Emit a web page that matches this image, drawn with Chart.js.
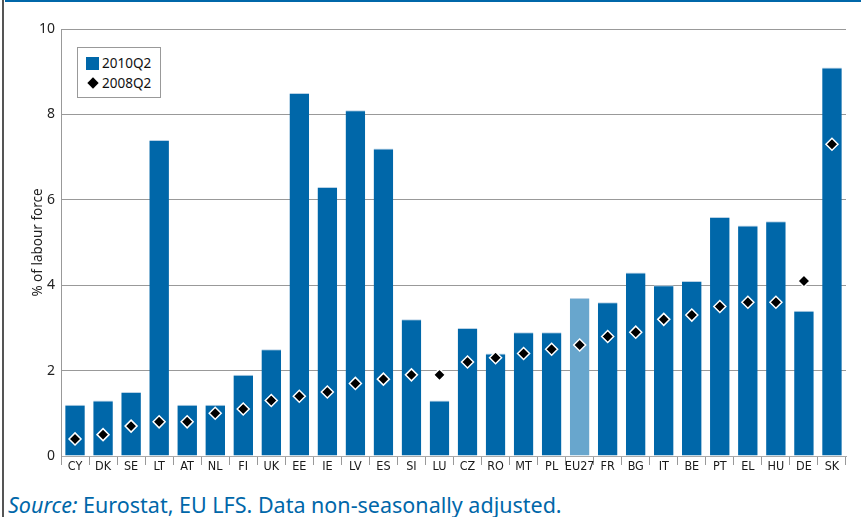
<!DOCTYPE html>
<html>
<head>
<meta charset="utf-8">
<script src="https://cdn.jsdelivr.net/npm/chart.js@4.4.1/dist/chart.umd.min.js"></script>
<style>
  html, body { margin: 0; padding: 0; background: #fff; }
  #wrap { position: relative; width: 861px; height: 517px; overflow: hidden; }
  #topLine { position: absolute; left: 5px; top: 0; width: 856px; height: 2px; background: #0067a9; }
  #leftLine { position: absolute; left: 2px; top: 0; width: 2px; height: 517px; background: #555; }
  #chartBox { position: absolute; left: 0; top: 0; width: 861px; height: 478px; }
  #legend {
    position: absolute; left: 77px; top: 47px; width: 84px; height: 51px;
    border: 1px solid #999; background: #fff; box-sizing: border-box;
    font-family: "Noto Sans", sans-serif; font-size: 13.5px; color: #111;
  }
  .row { position: absolute; left: 8px; height: 16px; line-height: 16px; }
  .sw { display: inline-block; width: 13px; height: 13px; background: #0067a9; vertical-align: -2px; margin-right: 3px; }
  .dm { display: inline-block; width: 8px; height: 8px; background: #000; transform: rotate(45deg); margin: 0 5px 0 3px; vertical-align: 1px; }
  #source {
    position: absolute; left: 8px; top: 490px; font-family: "Noto Sans", sans-serif;
    font-size: 21.5px; color: #0067a9; white-space: nowrap;
  }
</style>
</head>
<body>
<div id="wrap">
  <div id="topLine"></div>
  <div id="leftLine"></div>
  <div id="chartBox"><canvas id="myChart"></canvas></div>
  <div id="legend">
    <div class="row" style="top:7px"><span class="sw"></span>2010Q2</div>
    <div class="row" style="top:27px"><span class="dm"></span>2008Q2</div>
  </div>
  <div id="source"><i>Source:</i> Eurostat, EU LFS. Data non-seasonally adjusted.</div>
</div>
<script>
const categories = ["CY", "DK", "SE", "LT", "AT", "NL", "FI", "UK", "EE", "IE", "LV", "ES", "SI", "LU",
  "CZ", "RO", "MT", "PL", "EU27", "FR", "BG", "IT", "BE", "PT", "EL", "HU", "DE", "SK"];
const values2010 = [1.2, 1.3, 1.5, 7.4, 1.2, 1.2, 1.9, 2.5, 8.5, 6.3, 8.1, 7.2, 3.2, 1.3,
  3.0, 2.4, 2.9, 2.9, 3.7, 3.6, 4.3, 4.0, 4.1, 5.6, 5.4, 5.5, 3.4, 9.1];
const values2008 = [0.4, 0.5, 0.7, 0.8, 0.8, 1.0, 1.1, 1.3, 1.4, 1.5, 1.7, 1.8, 1.9, 1.9,
  2.2, 2.3, 2.4, 2.5, 2.6, 2.8, 2.9, 3.2, 3.3, 3.5, 3.6, 3.6, 4.1, 7.3];
const yTicks = [0, 2, 4, 6, 8, 10];

const barColors = categories.map((c) => c === "EU27" ? "#68a6cd" : "#0067a9");
const tickFont = { family: "Noto Sans", size: 14 };

const config = {
  type: "bar",
  data: {
    labels: categories,
    datasets: [
      {
        type: "line",
        label: "2008Q2",
        data: values2008,
        showLine: false,
        pointStyle: "rectRot",
        pointRadius: 6,
        pointBackgroundColor: "#000",
        pointBorderColor: "#fff",
        pointBorderWidth: 1.5,
        order: 0
      },
      {
        label: "2010Q2",
        data: values2010,
        backgroundColor: barColors,
        borderColor: "#b9d2e6",
        borderWidth: { top: 1, left: 0, right: 0, bottom: 0 },
        borderSkipped: "bottom",
        barPercentage: 0.7,
        categoryPercentage: 1,
        order: 1
      }
    ]
  },
  options: {
    responsive: true,
    maintainAspectRatio: false,
    animation: false,
    layout: { padding: { left: 0, right: 15, top: 29, bottom: 0 } },
    plugins: { legend: { display: false }, tooltip: { enabled: false } },
    scales: {
      x: {
        grid: { offset: true, drawOnChartArea: false, tickLength: 9, color: "#999" },
        border: { color: "#aaa" },
        ticks: { font: { family: "DejaVu Sans Condensed", size: 12.5 }, color: "#1a1a1a", padding: -6, maxRotation: 0, autoSkip: false },
        afterFit: (s) => { s.height = 22; }
      },
      y: {
        min: 0,
        max: 10,
        afterBuildTicks: (s) => { s.ticks = yTicks.map((v) => ({ value: v })); },
        grid: { color: "#999", drawTicks: false },
        border: { color: "#999" },
        ticks: { font: tickFont, color: "#222", padding: 6 },
        title: { display: true, text: "% of labour force", font: { family: "Noto Sans", size: 13.5 }, color: "#222", padding: { top: 30, bottom: 0 } },
        afterFit: (s) => { s.width = 61; }
      }
    }
  }
};

const myChart = document.getElementById("myChart");
new Chart(myChart, config);
</script>
</body>
</html>
